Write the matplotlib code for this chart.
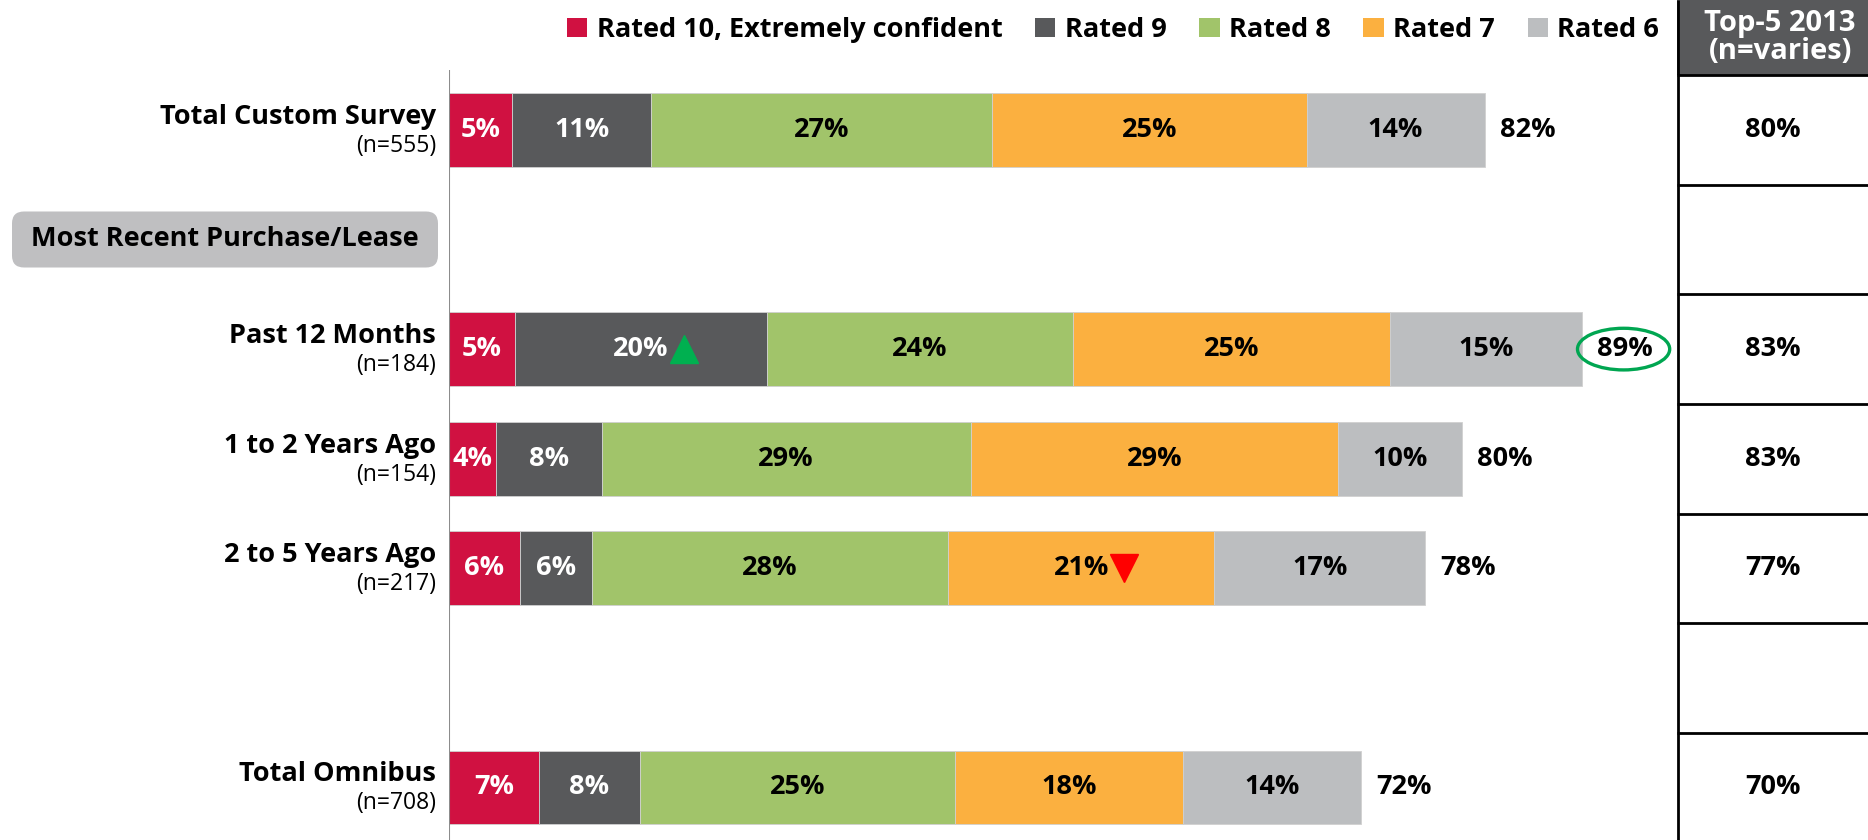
import matplotlib.pyplot as plt
from matplotlib.patches import Patch, Ellipse, FancyBboxPatch

plt.rcParams['font.family'] = ['Open Sans', 'DejaVu Sans']

# data
categories = ['Total Custom Survey', 'Past 12 Months', '1 to 2 Years Ago', '2 to 5 Years Ago', 'Total Omnibus']
sample_sizes = [555, 184, 154, 217, 708]
section_label = 'Most Recent Purchase/Lease'

series_names = ['Rated 10, Extremely confident', 'Rated 9', 'Rated 8', 'Rated 7', 'Rated 6']
rated_10 = [5.0, 5.2, 3.7, 5.6, 7.1]
rated_9 = [11.0, 20.0, 8.4, 5.7, 8.0]
rated_8 = [27.0, 24.2, 29.2, 28.2, 25.0]
rated_7 = [24.9, 25.1, 29.1, 21.1, 18.0]
rated_6 = [14.1, 15.2, 9.8, 16.7, 14.1]
top5_total = [82, 89, 80, 78, 72]
top5_2013 = [80, 83, 83, 77, 70]
table_header = 'Top-5 2013\n(n=varies)'

# significance arrows: (category index, series index, direction)
sig_marks = [(1, 1, 'up'), (3, 3, 'down')]
highlight = 1  # circled total

colors = ['#D01141', '#58595B', '#A1C46A', '#FBB040', '#BCBEC0']
txt_colors = ['white', 'white', 'black', 'black', 'black']

# layout: row slots (slot 1 = section header, slot 5 = gap)
slots = [0, 2, 3, 4, 6]
section_slot = 1
n_slots = 7

W, H = 1868, 840
px_per_pct = 12.63
row_px = 109.6
row0_px = 129.9
ytop = -row0_px / row_px
ybot = (H - row0_px) / row_px
ax_left, tab_left = 449, 1677
fs = 19.5

fig = plt.figure(figsize=(W / 100, H / 100), dpi=100)
ax = fig.add_axes([ax_left / W, 0, (tab_left - ax_left) / W, 1])
lab = fig.add_axes([0, 0, ax_left / W, 1])
tab = fig.add_axes([tab_left / W, 0, (W - tab_left) / W, 1])

ax.set_xlim(0, (tab_left - ax_left) / px_per_pct)
lab.set_xlim(0, ax_left)
tab.set_xlim(0, 1)
for a in (ax, lab, tab):
    a.set_ylim(ybot, ytop)
    a.axis('off')

series = [rated_10, rated_9, rated_8, rated_7, rated_6]
left = [0.0] * len(categories)
for s, vals in enumerate(series):
    ax.barh(slots, vals, left=left, height=0.675, color=colors[s],
            edgecolor='#D0D0D0', linewidth=0.6, label=series_names[s])
    for i, v in enumerate(vals):
        ax.text(left[i] + v / 2, slots[i], f'{v:.0f}%', ha='center', va='center',
                color=txt_colors[s], fontsize=fs, fontweight='bold')
    left = [l + v for l, v in zip(left, vals)]

for i, (end, tot) in enumerate(zip(left, top5_total)):
    ax.text(end + 1.2, slots[i], f'{tot}%', ha='left', va='center',
            fontsize=fs, fontweight='bold')
    if i == highlight:
        ax.add_patch(Ellipse((end + 3.3, slots[i]), 7.3, 0.38, fill=False,
                             edgecolor='#00A651', linewidth=2.4))

for i, s, d in sig_marks:
    start = sum(series[k][i] for k in range(s))
    mid = start + series[s][i] / 2
    ax.plot(mid + 3.4, slots[i], marker='^' if d == 'up' else 'v',
            markersize=20, color='#00B050' if d == 'up' else '#FF0000',
            linestyle='none')

ax.vlines(0, -0.55, ybot, color='#8C8C8C', linewidth=1.5)

# left labels
for i, name in enumerate(categories):
    lab.text(436, slots[i] - 0.12, name, ha='right', va='center',
             fontsize=fs, fontweight='bold')
    lab.text(436, slots[i] + 0.145, f'(n={sample_sizes[i]})', ha='right',
             va='center', fontsize=16.5)

box_h = 56 / row_px
lab.add_patch(FancyBboxPatch((12, section_slot - box_h / 2), 426, box_h,
                             boxstyle='round,pad=0,rounding_size=12',
                             mutation_aspect=1 / row_px,
                             facecolor='#BFBFC1', edgecolor='none'))
lab.text(225, section_slot, section_label, ha='center', va='center',
         fontsize=fs, fontweight='bold')

# right table
tab.add_patch(plt.Rectangle((0, ytop), 1, -0.5 - ytop, facecolor='#58595B',
                            edgecolor='none', clip_on=False))
tab.text(0.54, (ytop - 0.5) / 2, table_header, ha='center', va='center',
         color='white', fontsize=21, fontweight='bold', linespacing=0.95)
tab.vlines(0.006, ytop, ybot, color='black', linewidth=2)
tab.hlines([k - 0.5 for k in range(n_slots)], 0, 1, color='black', linewidth=2)
for i, v in enumerate(top5_2013):
    tab.text(0.5, slots[i], f'{v}%', ha='center', va='center',
             fontsize=fs, fontweight='bold')

handles = [Patch(facecolor=c, edgecolor='none') for c in colors]
fig.legend(handles, series_names, ncol=5, loc='center right',
           bbox_to_anchor=(1670 / W, 1 - 30 / H), frameon=False,
           prop={'size': fs, 'weight': 'bold'}, handlelength=0.75,
           handleheight=0.75, handletextpad=0.35, columnspacing=1.2,
           borderaxespad=0)

fig.savefig('out.png', dpi=100)
